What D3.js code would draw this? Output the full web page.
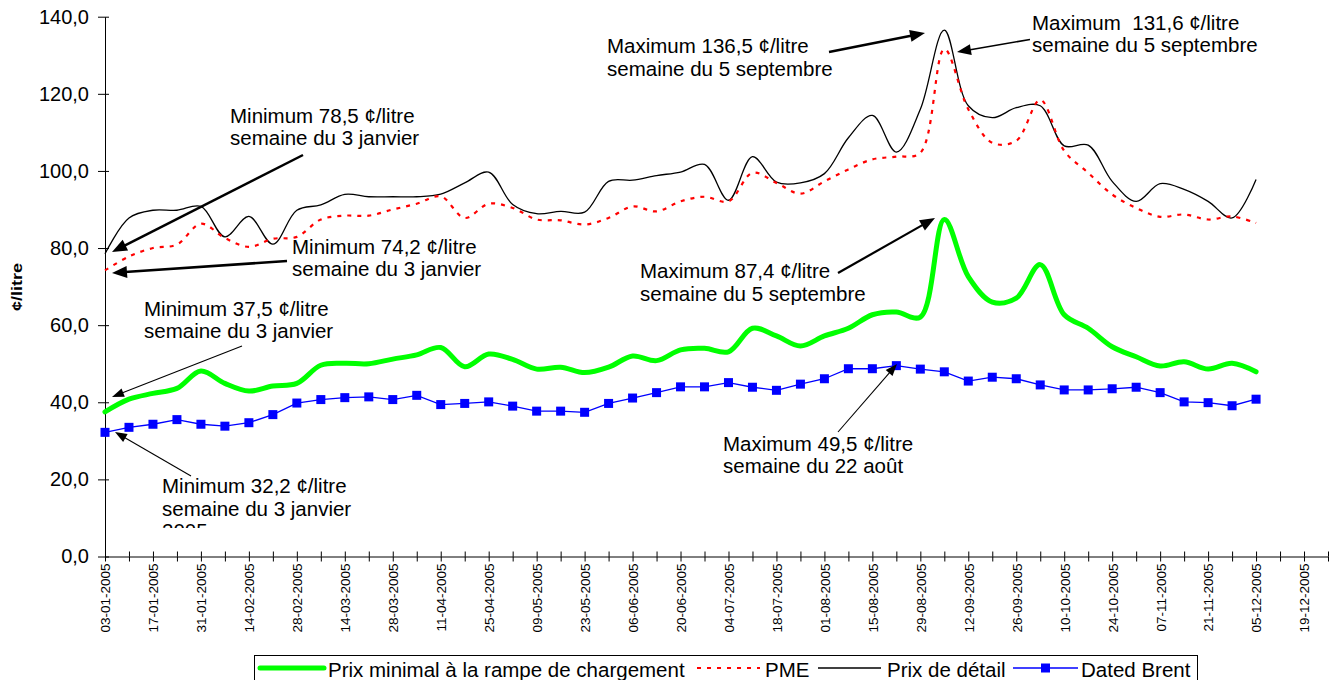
<!DOCTYPE html>
<html>
<head>
<meta charset="utf-8">
<script src="https://cdn.jsdelivr.net/npm/d3@7/dist/d3.min.js"></script>
<style>
  html, body { margin: 0; padding: 0; background: #fff; }
  svg { display: block; font-family: "Liberation Sans", Arial, sans-serif; }
</style>
</head>
<body>
<svg id="chart" width="1333" height="680"></svg>
<script>
// ---------------- DATA ----------------
// Week index 0 = semaine du 03-01-2005, one step per week
const tickLabels = ["03-01-2005","17-01-2005","31-01-2005","14-02-2005","28-02-2005","14-03-2005",
  "28-03-2005","11-04-2005","25-04-2005","09-05-2005","23-05-2005","06-06-2005","20-06-2005",
  "04-07-2005","18-07-2005","01-08-2005","15-08-2005","29-08-2005","12-09-2005","26-09-2005",
  "10-10-2005","24-10-2005","07-11-2005","21-11-2005","05-12-2005","19-12-2005"];
const yTicks = [0, 20, 40, 60, 80, 100, 120, 140];

const seriesNames = ["Prix minimal à la rampe de chargement", "PME", "Prix de détail", "Dated Brent"];

const rackMin = [37.5, 40.8, 42.3, 43.6, 48.1, 44.9, 42.9, 44.2, 44.9, 49.6,
  50.1, 50.0, 51.2, 52.3, 54.2, 49.2, 52.5, 51.1, 48.6, 49.1,
  47.7, 49.1, 52.0, 50.8, 53.6, 54.0, 53.1, 59.2, 57.2, 54.6,
  57.2, 59.2, 62.7, 63.4, 62.1, 87.4, 72.6, 66.0, 67.0, 75.7,
  62.7, 59.2, 54.4, 51.8, 49.4, 50.5, 48.6, 50.1, 47.9];

const pme = [74.2, 77.8, 80.0, 80.9, 86.3, 82.6, 80.3, 82.4, 82.9, 87.4,
  88.4, 88.4, 90.0, 91.5, 93.4, 87.8, 91.5, 90.4, 87.4, 87.2,
  86.1, 87.8, 90.8, 89.5, 92.1, 93.3, 92.1, 99.5, 96.9, 94.1,
  97.3, 100.4, 103.0, 103.7, 104.7, 131.6, 116.0, 107.3, 107.8, 118.4,
  105.2, 99.5, 93.9, 90.4, 88.1, 88.7, 87.4, 88.2, 86.5];

const retail = [78.5, 87.8, 89.8, 89.8, 90.8, 82.9, 88.2, 81.0, 89.8, 91.2,
  93.9, 93.3, 93.3, 93.3, 94.0, 96.9, 99.7, 91.3, 88.9, 89.5,
  89.3, 97.3, 97.6, 98.8, 99.7, 101.7, 92.4, 103.7, 97.1, 96.9,
  99.3, 108.6, 114.4, 104.9, 116.0, 136.5, 116.9, 113.8, 116.4, 116.9,
  106.5, 106.7, 97.3, 92.1, 96.7, 95.2, 92.1, 87.8, 97.8];

const brent = [32.2, 33.5, 34.3, 35.5, 34.3, 33.8, 34.7, 36.8, 39.8, 40.7,
  41.2, 41.4, 40.7, 41.8, 39.4, 39.7, 40.1, 39.0, 37.7, 37.7,
  37.4, 39.7, 41.1, 42.5, 44.0, 44.0, 45.1, 43.9, 43.1, 44.7,
  46.1, 48.7, 48.7, 49.5, 48.6, 47.9, 45.5, 46.5, 46.1, 44.5,
  43.2, 43.2, 43.5, 43.9, 42.5, 40.1, 39.9, 39.1, 40.8];

const annotationTexts = [
  ["Minimum 78,5 ¢/litre", "semaine du 3 janvier"],
  ["Minimum 74,2 ¢/litre", "semaine du 3 janvier"],
  ["Minimum 37,5 ¢/litre", "semaine du 3 janvier"],
  ["Minimum 32,2 ¢/litre", "semaine du 3 janvier", "2005"],
  ["Maximum 136,5 ¢/litre", "semaine du 5 septembre"],
  ["Maximum  131,6 ¢/litre", "semaine du 5 septembre"],
  ["Maximum 87,4 ¢/litre", "semaine du 5 septembre"],
  ["Maximum 49,5 ¢/litre", "semaine du 22 août"]
];

// ---------------- LAYOUT ----------------
const svg = d3.select("#chart");
const FONT = 20.5;
const x = d3.scaleLinear().domain([0, 51]).range([105, 1328]);
const y = d3.scaleLinear().domain([0, 140]).range([556.5, 16.7]);

// Y axis
const yAxis = svg.append("g").attr("transform", "translate(105,0)")
  .call(d3.axisLeft(y).tickValues(yTicks).tickSizeInner(7).tickSizeOuter(0).tickPadding(9)
    .tickFormat(d => d3.format(".1f")(d).replace(".", ",")));
yAxis.selectAll(".tick").append("line").attr("x2", 4).attr("stroke", "#000");
yAxis.selectAll("text").attr("font-size", 20).attr("fill", "#000").attr("font-family", "Liberation Sans, Arial, sans-serif");
yAxis.selectAll("line, path").attr("stroke", "#000");

// X axis
const xAxis = svg.append("g").attr("transform", "translate(0,556.5)")
  .call(d3.axisBottom(x).tickValues(d3.range(0, 52)).tickSizeInner(5).tickSizeOuter(0)
    .tickFormat(i => (i % 2 === 0 && tickLabels[i / 2]) ? tickLabels[i / 2] : ""));
xAxis.selectAll(".tick").append("line").attr("y2", -5).attr("stroke", "#000");
xAxis.selectAll("line, path").attr("stroke", "#000");
xAxis.selectAll("text")
  .attr("font-size", 13.5).attr("fill", "#000").attr("font-family", "Liberation Sans, Arial, sans-serif")
  .attr("y", 0).attr("x", -7).attr("dy", "0.36em")
  .attr("transform", "rotate(-90)")
  .style("text-anchor", "end");

// Y axis title
svg.append("text")
  .attr("transform", "translate(22,287) rotate(-90)")
  .attr("text-anchor", "middle")
  .attr("font-size", 15).attr("font-weight", "bold")
  .attr("textLength", 48).attr("lengthAdjust", "spacingAndGlyphs")
  .text("¢/litre");

// Lines
const smooth = d3.line().x((d, i) => x(i)).y(d => y(d)).curve(d3.curveCatmullRom.alpha(0.5));
const straight = d3.line().x((d, i) => x(i)).y(d => y(d));

svg.append("path").datum(retail).attr("d", smooth)
  .attr("fill", "none").attr("stroke", "#000").attr("stroke-width", 1.3);
svg.append("path").datum(pme).attr("d", smooth)
  .attr("fill", "none").attr("stroke", "#ff0000").attr("stroke-width", 2.2).attr("stroke-dasharray", "4,6");
svg.append("path").datum(rackMin).attr("d", smooth)
  .attr("fill", "none").attr("stroke", "#00ff00").attr("stroke-width", 5).attr("stroke-linejoin", "round").attr("stroke-linecap", "round");
svg.append("path").datum(brent).attr("d", straight)
  .attr("fill", "none").attr("stroke", "#0000ff").attr("stroke-width", 1.3);
svg.append("g").selectAll("rect").data(brent).join("rect")
  .attr("x", (d, i) => x(i) - 4.5).attr("y", d => y(d) - 4.5)
  .attr("width", 9).attr("height", 9).attr("fill", "#0000ff");

// Annotations
const annLayout = [
  { tx: 230, ty: 122.7, from: [303, 155], to: [112, 252], w: 2.5, L: 15, W: 6 },
  { tx: 292, ty: 254, from: [287, 261], to: [112, 273], w: 2.5, L: 15, W: 6 },
  { tx: 144, ty: 316, from: [242, 346], to: [112, 397], w: 1.1, L: 12, W: 4.5 },
  { tx: 162, ty: 493.3, from: [191, 476], to: [115, 432], w: 1.1, L: 12, W: 4.5, clip: 528 },
  { tx: 607, ty: 53.3, from: [829, 52], to: [925, 33], w: 2.5, L: 15, W: 6 },
  { tx: 1032, ty: 30, from: [1030, 39.5], to: [957, 52], w: 1.6, L: 14, W: 5.5 },
  { tx: 640, ty: 278.3, from: [838, 273], to: [935, 218], w: 2.2, L: 15, W: 6 },
  { tx: 723, ty: 450.7, from: [838, 432], to: [897, 364], w: 1.1, L: 12, W: 4.5 }
];

const defs = svg.append("defs");
const annG = svg.append("g");
annotationTexts.forEach((lines, k) => {
  const a = annLayout[k];
  const g = annG.append("g");
  if (a.clip) {
    defs.append("clipPath").attr("id", "clip" + k)
      .append("rect").attr("x", 0).attr("y", 0).attr("width", 1333).attr("height", a.clip);
    g.attr("clip-path", `url(#clip${k})`);
  }
  const t = g.append("text").attr("font-size", FONT).attr("fill", "#000")
    .attr("xml:space", "preserve").style("white-space", "pre");
  lines.forEach((ln, j) => {
    t.append("tspan").attr("x", a.tx).attr("y", a.ty + j * 22.3).text(ln);
  });
  // arrow line
  const [x1, y1] = a.from, [x2, y2] = a.to;
  const dx = x2 - x1, dy = y2 - y1, len = Math.hypot(dx, dy);
  const ux = dx / len, uy = dy / len;
  const bx = x2 - ux * a.L, by = y2 - uy * a.L;
  annG.append("line").attr("x1", x1).attr("y1", y1).attr("x2", bx + ux * 2).attr("y2", by + uy * 2)
    .attr("stroke", "#000").attr("stroke-width", a.w);
  annG.append("polygon")
    .attr("points", [[x2, y2], [bx - uy * a.W, by + ux * a.W], [bx + uy * a.W, by - ux * a.W]].map(p => p.join(",")).join(" "))
    .attr("fill", "#000");
});

// Legend
const lg = svg.append("g");
lg.append("rect").attr("x", 254.5).attr("y", 655.5).attr("width", 943).attr("height", 40)
  .attr("fill", "#fff").attr("stroke", "#000").attr("stroke-width", 1);
const legendItems = [
  { x1: 260, x2: 324, tx: 328, stroke: "#00ff00", w: 5, dash: null, marker: false },
  { x1: 697, x2: 760, tx: 765, stroke: "#ff0000", w: 2.2, dash: "4,6", marker: false },
  { x1: 818, x2: 881, tx: 887, stroke: "#000", w: 1.3, dash: null, marker: false },
  { x1: 1013, x2: 1078, tx: 1081, stroke: "#0000ff", w: 1.3, dash: null, marker: true }
];
legendItems.forEach((it, k) => {
  lg.append("line").attr("x1", it.x1).attr("x2", it.x2).attr("y1", 668).attr("y2", 668)
    .attr("stroke", it.stroke).attr("stroke-width", it.w)
    .attr("stroke-linecap", k === 0 ? "round" : "butt")
    .attr("stroke-dasharray", it.dash);
  if (it.marker) {
    lg.append("rect").attr("x", (it.x1 + it.x2) / 2 - 4.5).attr("y", 668 - 4.5)
      .attr("width", 9).attr("height", 9).attr("fill", "#0000ff");
  }
  lg.append("text").attr("x", it.tx).attr("y", 676.5).attr("font-size", FONT).attr("fill", "#000")
    .text(seriesNames[k]);
});
</script>
</body>
</html>
